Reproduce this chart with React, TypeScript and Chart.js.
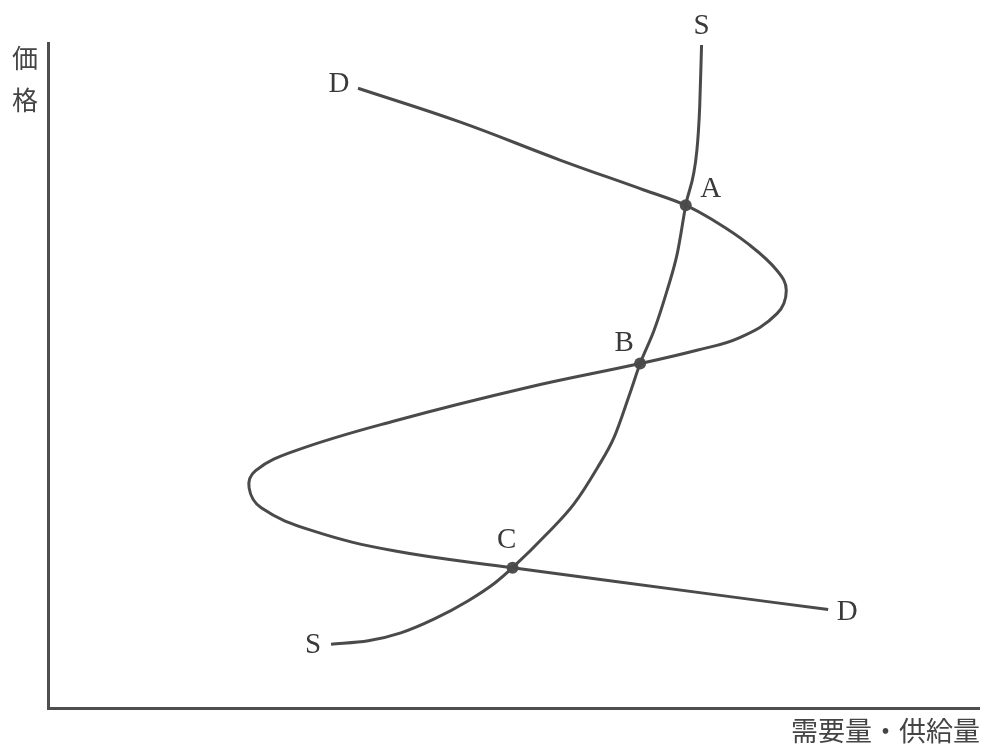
import React, { useEffect, useRef } from "react";
import { Chart, registerables } from "chart.js";

Chart.register(...registerables);

// Demand curve D (quantity, price) traced from top end to bottom end
const demandQty = [33.3, 44.3, 55.0, 64.0, 68.5, 71.5, 75.1, 78.3, 79.3, 78.3, 74.3, 69.7, 63.6, 51.5, 37.3, 26.6, 22.3, 21.6, 22.9, 28.3, 37.3, 49.9, 70.8, 83.8];
const demandPrice = [93.2, 88.1, 82.4, 77.9, 75.6, 73.3, 69.9, 65.8, 62.8, 59.3, 55.7, 53.8, 51.8, 48.2, 43.2, 38.7, 35.7, 33.1, 30.1, 26.7, 23.6, 21.1, 17.2, 14.8];

// Supply curve S (quantity, price) from bottom end to top end
const supplyQty = [30.4, 34.4, 37.9, 41.5, 45.1, 48.0, 49.9, 53.6, 56.5, 59.0, 60.8, 62.5, 63.6, 65.1, 66.5, 67.6, 68.5, 69.7, 70.0, 70.2];
const supplyPrice = [9.6, 10.1, 11.3, 13.4, 16.1, 18.8, 21.1, 26.2, 30.7, 36.1, 40.7, 47.3, 51.8, 56.8, 62.8, 68.4, 75.6, 83.9, 90.4, 99.7];

// Equilibria
const eqLabels = ["A", "B", "C"];
const eqQty = [68.5, 63.6, 49.9];
const eqPrice = [75.6, 51.8, 21.1];

const yAxisTitle = ["価", "格"];
const xAxisTitle = "需要量・供給量";

const INK = "#4a4a4a";
const SERIF = '"Liberation Serif", "DejaVu Serif", serif';
const CJK = '"Noto Sans CJK JP", "Noto Sans CJK SC", sans-serif';

export default function App() {
  const ref = useRef<HTMLCanvasElement | null>(null);

  useEffect(() => {
    document.body.style.margin = "0";
    const canvas = ref.current;
    if (!canvas) return;

    const toPts = (xs: number[], ys: number[]) => xs.map((x, i) => ({ x, y: ys[i] }));
    const dPts = toPts(demandQty, demandPrice);
    const sPts = toPts(supplyQty, supplyPrice);
    const ePts = toPts(eqQty, eqPrice);

    const labelPlugin = {
      id: "labels",
      afterDraw(chart: any) {
        const ctx = chart.ctx;
        const xs = chart.scales.x;
        const ys = chart.scales.y;
        const area = chart.chartArea;
        const px = (p: { x: number; y: number }) => [xs.getPixelForValue(p.x), ys.getPixelForValue(p.y)];
        ctx.save();
        ctx.fillStyle = "#3a3a3a";
        ctx.textAlign = "center";
        ctx.textBaseline = "middle";
        ctx.font = `29px ${SERIF}`;
        const put = (t: string, p: { x: number; y: number }, dx: number, dy: number) => {
          const [x, y] = px(p);
          ctx.fillText(t, x + dx, y + dy);
        };
        put("D", dPts[0], -19, -4);
        put("D", dPts[dPts.length - 1], 19, 3);
        put("S", sPts[0], -18, 1);
        put("S", sPts[sPts.length - 1], 0, -19);
        const offs = [[25, -16], [-16, -20], [-6, -27]];
        eqLabels.forEach((l, i) => put(l, ePts[i], offs[i][0], offs[i][1]));

        ctx.font = `26px ${CJK}`;
        ctx.fillStyle = "#444";
        yAxisTitle.forEach((c, i) => ctx.fillText(c, area.left - 23, area.top + 15 + i * 42));
        ctx.textAlign = "right";
        ctx.textBaseline = "top";
        ctx.font = `27px ${CJK}`;
        ctx.fillText(xAxisTitle, area.right + 1, area.bottom + 9);
        ctx.restore();
      },
    };

    const chart = new Chart(canvas, {
      type: "scatter",
      data: {
        datasets: [
          {
            label: "D",
            data: dPts,
            showLine: true,
            borderColor: INK,
            borderWidth: 3,
            pointRadius: 0,
            tension: 0.4,
            fill: false,
            clip: false as any,
          },
          {
            label: "S",
            data: sPts,
            showLine: true,
            borderColor: INK,
            borderWidth: 3,
            pointRadius: 0,
            cubicInterpolationMode: "monotone",
            fill: false,
            clip: false as any,
          },
          {
            label: "eq",
            data: ePts,
            showLine: false,
            pointRadius: 6,
            pointBackgroundColor: "#505050",
            pointBorderColor: "#505050",
            borderWidth: 0,
          },
        ],
      },
      options: {
        animation: false,
        responsive: false,
        maintainAspectRatio: false,
        layout: { padding: { left: 48, top: 43, right: 1, bottom: 36 } },
        plugins: { legend: { display: false }, tooltip: { enabled: false }, title: { display: false } },
        scales: {
          x: {
            type: "linear",
            min: 0,
            max: 100,
            grid: { display: false, drawTicks: false },
            ticks: { display: false },
            border: { display: true, color: "#4f4f4f", width: 3 },
          },
          y: {
            type: "linear",
            min: 0,
            max: 100,
            grid: { display: false, drawTicks: false },
            ticks: { display: false },
            border: { display: true, color: "#4f4f4f", width: 3 },
          },
        },
      },
      plugins: [labelPlugin],
    });
    return () => chart.destroy();
  }, []);

  return (
    <div style={{ width: 985, height: 744, background: "#fff" }}>
      <canvas ref={ref} width={985} height={744} />
    </div>
  );
}
